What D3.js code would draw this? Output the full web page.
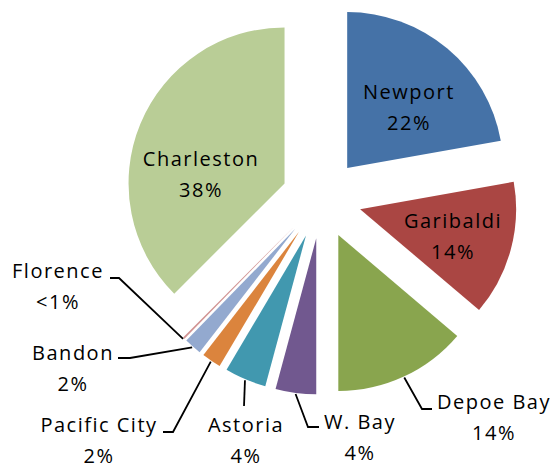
<!DOCTYPE html>
<html>
<head>
<meta charset="utf-8">
<script src="https://cdn.jsdelivr.net/npm/d3@7"></script>
<style>
    body { margin: 0; background: #fff; }
    text { font-family: "Open Sans", sans-serif; font-size: 20px; fill: #000; letter-spacing: 1.5px; }
</style>
</head>
<body>
<script>
// Pie data: ports and their share (percent)
var ports = ["Newport", "Garibaldi", "Depoe Bay", "W. Bay", "Astoria",
             "Pacific City", "Bandon", "Florence", "Charleston"];
var shares = [22.2, 14.0, 13.8, 4.2, 4.3, 2.0, 1.8, 0.2, 37.5];
var colors = ["#4572A7", "#AA4643", "#89A54E", "#71588F", "#4198AF",
              "#DB843D", "#93A9CF", "#D19392", "#B9CD96"];

// Layout: chart size, pie centre, radius and how far each slice is pulled out
var width = 555, height = 463;
var cx = 321.5, cy = 198.7, radius = 156, explode = 40;

// Label anchor (centre x, first baseline y) for each slice
var labelPos = [[409, 99], [453, 228], [494, 409], [360, 429], [246, 432],
                [99, 432], [73, 360], [58, 278], [201, 166]];
// Leader lines for outside labels: elbow point, end point (null = inside)
var leaders = [null, null,
               [[422, 409], [432, 409]],
               [[308, 427], [319, 427]],
               [[244, 406], [244, 406]],
               [[173, 432], [163, 432]],
               [[130, 358], [118, 358]],
               [[119, 278], [110, 278]],
               null];

var data = ports.map(function (p, i) { return {name: p, value: shares[i]}; });

var svg = d3.select("body").append("svg")
    .attr("width", width)
    .attr("height", height);

var pie = d3.pie().sort(null).value(function (d) { return d.value; });
var arc = d3.arc().innerRadius(0).outerRadius(radius);
var arcs = pie(data);

// offset of a slice along its bisector
function shift(d, dist) {
    var a = (d.startAngle + d.endAngle) / 2;
    return [Math.sin(a) * dist, -Math.cos(a) * dist];
}

var g = svg.append("g").attr("transform", "translate(" + cx + "," + cy + ")");

g.selectAll("path.slice")
    .data(arcs)
    .enter()
    .append("path")
    .attr("class", "slice")
    .attr("d", arc)
    .attr("fill", function (d, i) { return colors[i]; })
    .attr("transform", function (d) {
        var s = shift(d, explode);
        return "translate(" + s[0] + "," + s[1] + ")";
    });

// leader lines, from the outer edge of the slice to the label
var line = d3.line();
svg.selectAll("path.leader")
    .data(arcs.filter(function (d, i) { return leaders[i]; }))
    .enter()
    .append("path")
    .attr("class", "leader")
    .attr("fill", "none")
    .attr("stroke", "#000")
    .attr("stroke-width", 1.8)
    .attr("d", function (d) {
        var s = shift(d, explode + radius + 1);
        var l = leaders[d.index];
        return line([[cx + s[0], cy + s[1]], l[0], l[1]]);
    });

function pctText(v) {
    return v < 1 ? "<1%" : Math.round(v) + "%";
}

var labels = svg.selectAll("text.lbl")
    .data(arcs)
    .enter()
    .append("text")
    .attr("class", "lbl")
    .attr("text-anchor", "middle");

labels.append("tspan")
    .attr("x", function (d) { return labelPos[d.index][0]; })
    .attr("y", function (d) { return labelPos[d.index][1]; })
    .text(function (d) { return d.data.name; });

labels.append("tspan")
    .attr("x", function (d) { return labelPos[d.index][0]; })
    .attr("y", function (d) { return labelPos[d.index][1] + 31; })
    .text(function (d) { return pctText(d.data.value); });
</script>
</body>
</html>
